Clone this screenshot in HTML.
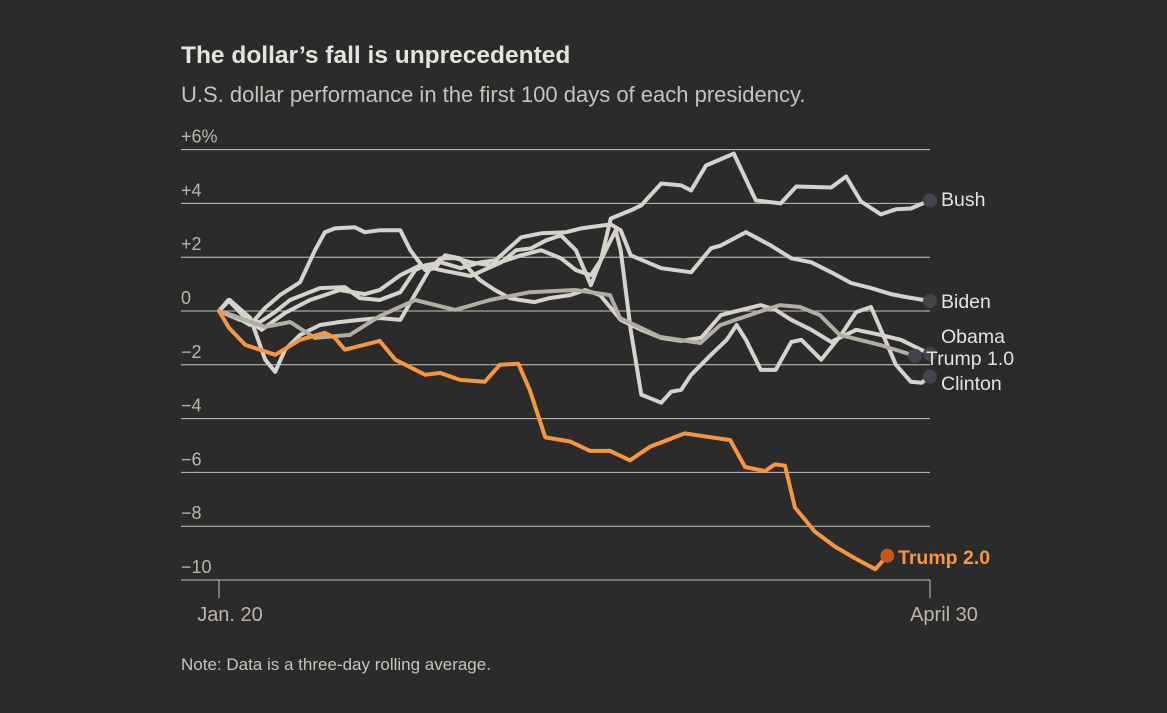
<!DOCTYPE html>
<html><head><meta charset="utf-8">
<style>
body{margin:0;background:#2a2b2a;width:1167px;height:708px;overflow:hidden;font-family:"Liberation Sans",sans-serif}
</style></head>
<body>
<svg id="chart" width="1167" height="708" xmlns="http://www.w3.org/2000/svg">
<rect width="1167" height="708" fill="#2a2b2a"/>
<text x="181" y="63" font-size="24.5" font-weight="bold" fill="#e6e2dc">The dollar’s fall is unprecedented</text>
<text x="181" y="102" font-size="22" fill="#c8c2b8">U.S. dollar performance in the first 100 days of each presidency.</text>
<text x="181" y="670" font-size="17" fill="#c8c2b8">Note: Data is a three-day rolling average.</text>
<g id="grid"></g><g id="series"></g><g id="labels"></g>
</svg>
<script>
const yTicks=[6,4,2,0,-2,-4,-6,-8,-10];
const yTickLabels=["+6%","+4","+2","0","−2","−4","−6","−8","−10"];
const bushDays=[0,1.3,3.7,6.0,9.3,12.8,17.0,20.5,22.6,25.5,28.3,31.2,35.4,39.7,41.8,43.9,46.0,48.1,50.2,52.3,53.7,55.1,57.9,59.4,62.2,65.0,66.4,68.5,72.4,75.5,79.0,81.2,86.1,88.2,90.3,93.1,95.2,97.3,100];
const bushVals=[0,0.41,-0.26,-0.70,-0.07,0.41,0.78,0.63,0.78,1.33,1.70,1.52,1.30,1.81,2.26,2.33,2.63,2.81,2.26,0.96,1.89,3.44,3.74,3.93,4.74,4.67,4.48,5.41,5.85,4.11,4.0,4.63,4.59,5.0,4.07,3.59,3.78,3.81,4.11];
const bidenDays=[0,2.95,5.77,7.88,9.99,14.2,17.7,19.8,22.6,25.5,27.6,29.0,31.2,34.0,36.8,38.9,42.5,45.3,48.8,50.9,55.1,56.5,57.9,62.2,66.4,69.2,70.6,74.1,77.6,80.5,83.3,86.1,88.9,91.7,94.5,96.6,100];
const bidenVals=[0,-0.33,-0.41,-0.04,0.41,0.85,0.89,0.48,0.41,0.70,1.52,1.70,1.81,1.59,1.81,1.89,2.74,2.89,2.93,3.07,3.22,3.0,2.07,1.59,1.44,2.33,2.44,2.93,2.44,1.96,1.81,1.44,1.04,0.85,0.63,0.52,0.37];
const obamaDays=[0,2.25,4.36,6.47,8.58,11.4,13.5,14.9,16.3,19.1,20.5,22.6,25.5,26.9,29.0,30.4,31.8,33.9,35.3,36.7,38.8,40.9,42.3,44.4,46.5,49.4,51.5,53.6,56.5,59.4,62.2,65.0,67.8,70.6,76.2,78.3,80.5,83.3,86.1,89.6,93.1,95.9,100];
const obamaVals=[0,-0.19,-0.52,0.11,0.59,1.07,2.26,2.93,3.07,3.11,2.93,3.0,3.0,2.26,1.52,1.59,2.07,1.96,1.52,1.15,0.78,0.48,0.41,0.33,0.48,0.59,0.78,0.59,-0.33,-0.70,-1.0,-1.11,-1.0,-0.15,0.22,0.04,-0.33,-0.70,-1.15,-0.70,-0.89,-1.07,-1.6];
const clintonDays=[0,1.5,4.4,6.5,7.9,9.3,11.4,14.2,17.0,19.8,22.6,25.5,29.7,31.2,33.3,35.4,38.2,40.4,42.5,45.3,48.1,50.2,52.3,53.7,55.8,56.5,57.9,59.4,62.2,63.6,65.0,66.4,69.2,71.4,72.8,74.1,76.2,78.3,80.5,81.9,84.7,87.5,89.6,91.7,93.1,95.2,97.3,98.8,100];
const clintonVals=[0,0.41,-0.26,-1.81,-2.26,-1.44,-0.89,-0.52,-0.41,-0.33,-0.26,-0.33,1.59,1.96,1.96,1.81,1.70,1.89,2.07,2.26,1.96,1.52,1.33,1.89,3.0,2.26,-0.70,-3.11,-3.41,-3.0,-2.93,-2.37,-1.63,-1.07,-0.52,-1.07,-2.19,-2.19,-1.15,-1.07,-1.81,-0.89,-0.04,0.15,-0.70,-2.0,-2.63,-2.67,-2.44];
const trump1Days=[0,3.7,6.5,10.0,13.5,18.4,22.6,27.6,33.2,38.1,43.7,50.1,55.0,56.4,62.0,67.7,70.5,76.8,78.9,81.7,84.5,87.3,93.0,97.9];
const trump1Vals=[0,-0.33,-0.59,-0.41,-1.0,-0.89,-0.19,0.41,0.04,0.41,0.70,0.78,0.59,-0.26,-0.96,-1.19,-0.52,0.04,0.22,0.15,-0.15,-0.89,-1.26,-1.67];
const trump2Days=[0,1.4,3.7,7.9,11.4,14.9,16.3,17.7,22.6,24.8,29.0,31.1,33.9,37.4,39.5,42.1,43.7,45.9,49.4,52.2,55.0,57.8,60.6,65.5,71.9,74.0,76.8,78.2,79.6,81.0,83.8,86.6,89.5,92.3,94.0];
const trump2Vals=[0,-0.63,-1.26,-1.63,-1.07,-0.81,-1.0,-1.44,-1.11,-1.81,-2.37,-2.3,-2.56,-2.63,-2.0,-1.96,-2.93,-4.7,-4.85,-5.2,-5.2,-5.55,-5.05,-4.55,-4.8,-5.8,-5.95,-5.7,-5.75,-7.3,-8.2,-8.75,-9.2,-9.6,-9.1];

const NS="http://www.w3.org/2000/svg";
const x=d=>219+d*7.11;
const y=v=>311-v*26.9;
function mk(tag,attrs,parent){const e=document.createElementNS(NS,tag);for(const k in attrs)e.setAttribute(k,attrs[k]);parent.appendChild(e);return e;}
const grid=document.getElementById('grid'),ser=document.getElementById('series'),lab=document.getElementById('labels');
yTicks.forEach((t,i)=>{
  const l=mk('line',{x1:181,x2:930,y1:y(t),y2:y(t),stroke:'#c9c5bf','stroke-width':1},grid);
  
  
  const tx=mk('text',{x:181,y:y(t)-7,'font-size':18,fill:'#bdb6a8'},grid);
  tx.textContent=yTickLabels[i];
  
  
});
const tk=mk('line',{x1:219,x2:219,y1:y(-10),y2:y(-10)+18,stroke:'#c9c5bf'},grid);


const tk2=mk('line',{x1:930,x2:930,y1:y(-10),y2:y(-10)+18,stroke:'#c9c5bf'},grid);


const xl1=mk('text',{x:230,y:621,'font-size':20,fill:'#bdb6a8','text-anchor':'middle'},grid);xl1.textContent='Jan. 20';


const xl2=mk('text',{x:944,y:621,'font-size':20,fill:'#bdb6a8','text-anchor':'middle'},grid);xl2.textContent='April 30';



const list=[
 ['clinton',clintonDays,clintonVals,'#d6d2cc'],
 ['obama',obamaDays,obamaVals,'#d6d2cc'],
 ['biden',bidenDays,bidenVals,'#d6d2cc'],
 ['bush',bushDays,bushVals,'#d6d2cc'],
 ['trump1',trump1Days,trump1Vals,'#b3ada4'],
 ['trump2',trump2Days,trump2Vals,'#f7963f']
];
list.forEach(([n,ds,vs,c])=>{
  const d=ds.map((dd,i)=>(i?'L':'M')+x(dd).toFixed(1)+','+y(vs[i]).toFixed(1)).join('');
  const p=mk('path',{d:d,fill:'none',stroke:c,'stroke-width':4,'stroke-linejoin':'round','stroke-linecap':'round'},ser);
  
  
  const li=ds.length-1;
  const dot=mk('circle',{cx:x(ds[li]),cy:y(vs[li]),r:7,fill:n==='trump2'?'#c55a11':'#40464b'},lab);
  
  
});
const labs=[['Bush',941,206,'#e6e2dc','normal'],['Biden',941,308,'#e6e2dc','normal'],['Obama',941,343,'#e6e2dc','normal'],['Trump 1.0',926,365,'#e6e2dc','normal'],['Clinton',941,390,'#e6e2dc','normal'],['Trump 2.0',898,564,'#f7963f','bold']];
labs.forEach(([t,lx,ly,c,w])=>{
  const e=mk('text',{x:lx,y:ly,'font-size':19.5,fill:c,'font-weight':w},lab);
  e.textContent=t;
  
  
});
</script>
</body></html>
